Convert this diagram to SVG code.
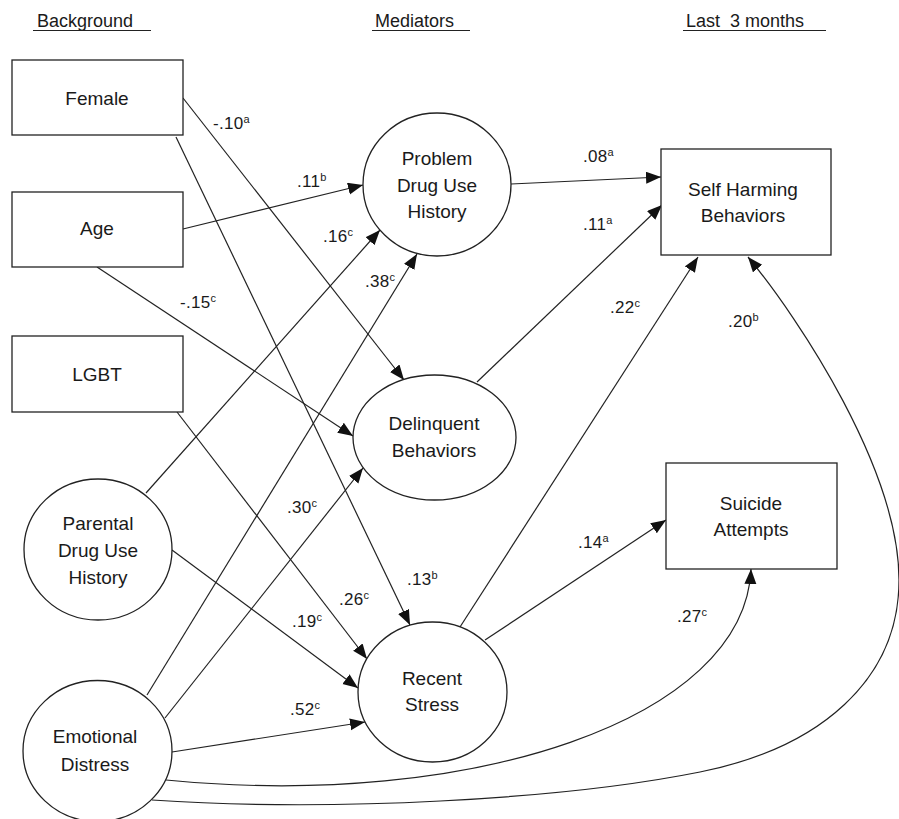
<svg xmlns="http://www.w3.org/2000/svg" width="899" height="819" viewBox="0 0 899 819">
<style>
.node{fill:#fff;stroke:#222;stroke-width:1.3}
.t{font-family:"Liberation Sans",Arial,sans-serif;font-size:19px;fill:#1a1a1a;text-anchor:middle}
.h{font-family:"Liberation Sans",Arial,sans-serif;font-size:18px;fill:#1a1a1a}
.l{font-family:"Liberation Sans",Arial,sans-serif;font-size:17px;fill:#1a1a1a;letter-spacing:0.3px}
.s{font-size:11px}
.e{fill:none;stroke:#222;stroke-width:1.2}
.a{marker-end:url(#arr)}
.u{stroke:#222;stroke-width:1.2}
</style>
<defs>
<marker id="arr" markerUnits="userSpaceOnUse" markerWidth="16" markerHeight="14" viewBox="0 0 16 14" refX="15" refY="6" orient="auto">
<path d="M0,0 L15,6 L0,12 z" fill="#111"/>
</marker>
</defs>
<rect width="899" height="819" fill="#fff"/>
<g id="headers">
<text class="h" x="37" y="27">Background</text>
<line class="u" x1="33" y1="30.5" x2="151" y2="30.5"/>
<text class="h" x="375" y="27">Mediators</text>
<line class="u" x1="372" y1="30.5" x2="470" y2="30.5"/>
<text class="h" x="686" y="27" xml:space="preserve">Last  3 months</text>
<line class="u" x1="683" y1="30.5" x2="826" y2="30.5"/>
</g>
<g id="connectors">
<line class="e a" x1="183" y1="98" x2="404" y2="380"/>
<line class="e a" x1="176" y1="137" x2="410" y2="625"/>
<line class="e a" x1="183" y1="229" x2="363" y2="185"/>
<line class="e a" x1="97" y1="267" x2="353" y2="436"/>
<line class="e a" x1="177" y1="412" x2="367" y2="659"/>
<line class="e a" x1="146" y1="493" x2="380" y2="230"/>
<line class="e a" x1="172" y1="550" x2="358" y2="688"/>
<line class="e a" x1="147" y1="695" x2="417" y2="254"/>
<line class="e a" x1="165" y1="718" x2="363" y2="468"/>
<line class="e a" x1="172" y1="752" x2="365" y2="722"/>
<line class="e a" x1="511" y1="184" x2="661" y2="177"/>
<line class="e a" x1="477" y1="382" x2="662" y2="205"/>
<line class="e a" x1="460" y1="627" x2="698" y2="257"/>
<line class="e a" x1="485" y1="640" x2="666" y2="520"/>
<path class="e a" d="M166,780 C470,810 745,720 751,569"/>
<path class="e a" d="M152,800 C330,812 560,800 700,772 C820,748 899,680 899,580 C899,470 800,320 748,257"/>
</g>
<g id="labels">
<text class="l" x="213" y="129">-.10<tspan class="s" dy="-6">a</tspan></text>
<text class="l" x="297" y="187">.11<tspan class="s" dy="-6">b</tspan></text>
<text class="l" x="323" y="242">.16<tspan class="s" dy="-6">c</tspan></text>
<text class="l" x="365" y="287">.38<tspan class="s" dy="-6">c</tspan></text>
<text class="l" x="180" y="308">-.15<tspan class="s" dy="-6">c</tspan></text>
<text class="l" x="287" y="513">.30<tspan class="s" dy="-6">c</tspan></text>
<text class="l" x="407" y="585">.13<tspan class="s" dy="-6">b</tspan></text>
<text class="l" x="339" y="605">.26<tspan class="s" dy="-6">c</tspan></text>
<text class="l" x="292" y="627">.19<tspan class="s" dy="-6">c</tspan></text>
<text class="l" x="290" y="715">.52<tspan class="s" dy="-6">c</tspan></text>
<text class="l" x="583" y="162">.08<tspan class="s" dy="-6">a</tspan></text>
<text class="l" x="583" y="230">.11<tspan class="s" dy="-6">a</tspan></text>
<text class="l" x="610" y="313">.22<tspan class="s" dy="-6">c</tspan></text>
<text class="l" x="728" y="327">.20<tspan class="s" dy="-6">b</tspan></text>
<text class="l" x="578" y="548">.14<tspan class="s" dy="-6">a</tspan></text>
<text class="l" x="677" y="622">.27<tspan class="s" dy="-6">c</tspan></text>
</g>
<g id="female"><rect class="node" x="12" y="60" width="171" height="75"/><text class="t" x="97" y="105">Female</text></g>
<g id="age"><rect class="node" x="12" y="192" width="171" height="75"/><text class="t" x="97" y="235">Age</text></g>
<g id="lgbt"><rect class="node" x="12" y="336" width="171" height="76"/><text class="t" x="97" y="381">LGBT</text></g>
<g id="parental"><ellipse class="node" cx="98" cy="549.5" rx="74" ry="70.5"/><text class="t" x="98" y="530">Parental</text><text class="t" x="98" y="557">Drug Use</text><text class="t" x="98" y="584">History</text></g>
<g id="emotional"><ellipse class="node" cx="97.5" cy="751" rx="74.5" ry="70.5"/><text class="t" x="95" y="743">Emotional</text><text class="t" x="95" y="771">Distress</text></g>
<g id="problem"><ellipse class="node" cx="437" cy="184.5" rx="74" ry="71.5"/><text class="t" x="437" y="165">Problem</text><text class="t" x="437" y="192">Drug Use</text><text class="t" x="437" y="218">History</text></g>
<g id="delinquent"><ellipse class="node" cx="434.5" cy="437.5" rx="81.5" ry="62.5"/><text class="t" x="434" y="430">Delinquent</text><text class="t" x="434" y="457">Behaviors</text></g>
<g id="stress"><ellipse class="node" cx="432.5" cy="692" rx="74.5" ry="70"/><text class="t" x="432" y="685">Recent</text><text class="t" x="432" y="711">Stress</text></g>
<g id="selfharm"><rect class="node" x="661" y="149" width="170" height="106"/><text class="t" x="743" y="196">Self Harming</text><text class="t" x="743" y="222">Behaviors</text></g>
<g id="suicide"><rect class="node" x="666" y="463" width="171" height="106"/><text class="t" x="751" y="510">Suicide</text><text class="t" x="751" y="536">Attempts</text></g>
</svg>
